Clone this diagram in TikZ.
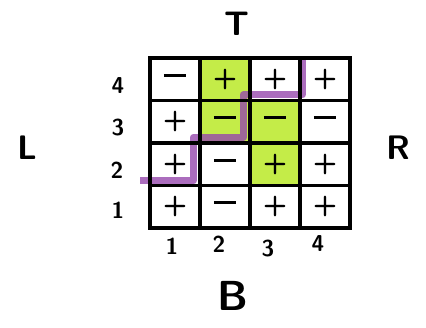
\documentclass[tikz,border=0pt]{standalone}
\usetikzlibrary{positioning,backgrounds}
\definecolor{hilite}{RGB}{196,236,72}
\definecolor{trail}{RGB}{150,72,172}
\newcommand{\pos}{\textbf{+}}
\newcommand{\nega}{\rule[0.28em]{0.8em}{2.8pt}}
\begin{document}
\begin{tikzpicture}[x=1pt, y=-1pt,
  cell/.style={draw, line width=3.2pt, minimum width=50pt, minimum height=42.5pt, inner sep=0pt, font=\sffamily\bfseries\fontsize{28}{28}\selectfont},
  idx/.style={font=\sffamily\bfseries\fontsize{23}{23}\selectfont},
  side/.style={font=\sffamily\bfseries\fontsize{34}{34}\selectfont}]
  \useasboundingbox (0,0) rectangle (426,328);
  % the 4x4 board
  \node[cell] (c14) at (175,79.25) {\nega};
  \node[cell] (c24) at (225,79.25) {\pos};
  \node[cell] (c34) at (275,79.25) {\pos};
  \node[cell] (c44) at (325,79.25) {\pos};
  \node[cell] (c13) at (175,121.75) {\pos};
  \node[cell] (c23) at (225,121.75) {\nega};
  \node[cell] (c33) at (275,121.75) {\nega};
  \node[cell] (c43) at (325,121.75) {\nega};
  \node[cell] (c12) at (175,164.25) {\pos};
  \node[cell] (c22) at (225,164.25) {\nega};
  \node[cell] (c32) at (275,164.25) {\pos};
  \node[cell] (c42) at (325,164.25) {\pos};
  \node[cell] (c11) at (175,206.75) {\pos};
  \node[cell] (c21) at (225,206.75) {\nega};
  \node[cell] (c31) at (275,206.75) {\pos};
  \node[cell] (c41) at (325,206.75) {\pos};
  % highlight and cut
  \begin{scope}[on background layer]
    \foreach \n in {c24,c23,c33,c32}
      \fill[hilite] ([shift={(3pt,-2pt)}]\n.north west) rectangle ([shift={(-3pt,2pt)}]\n.south east);
    \draw[trail, line width=7pt, opacity=0.8, line join=round]
      ([shift={(-8pt,3pt)}]c11.north west) -- ([shift={(-5pt,3pt)}]c21.north west)
      -- ([shift={(-5pt,4pt)}]c22.north west) -- ([shift={(-5pt,4pt)}]c32.north west)
      -- ([shift={(-5pt,4pt)}]c33.north west) -- ([shift={(4pt,4pt)}]c43.north west)
      -- ([shift={(4pt,0pt)}]c44.north west);
  \end{scope}
  % row and column numbers
  \node[idx] (r4) at (118,86) {4};
  \node[idx] (r3) at (118,128) {3};
  \node[idx] (r2) at (117,170) {2};
  \node[idx] (r1) at (118,210) {1};
  \node[idx] (k1) at (172,246) {1};
  \node[idx] (k2) at (219,244) {2};
  \node[idx] (k3) at (268,249) {3};
  \node[idx] (k4) at (318,244) {4};
  % sides
  \node[side] (top) at (237,24) {T};
  \node[side] (left) at (27,148) {L};
  \node[side] (right) at (398,148) {R};
  \node[side, font=\sffamily\bfseries\fontsize{42}{42}\selectfont] (bottom) at (233,296) {B};
\end{tikzpicture}
\end{document}
